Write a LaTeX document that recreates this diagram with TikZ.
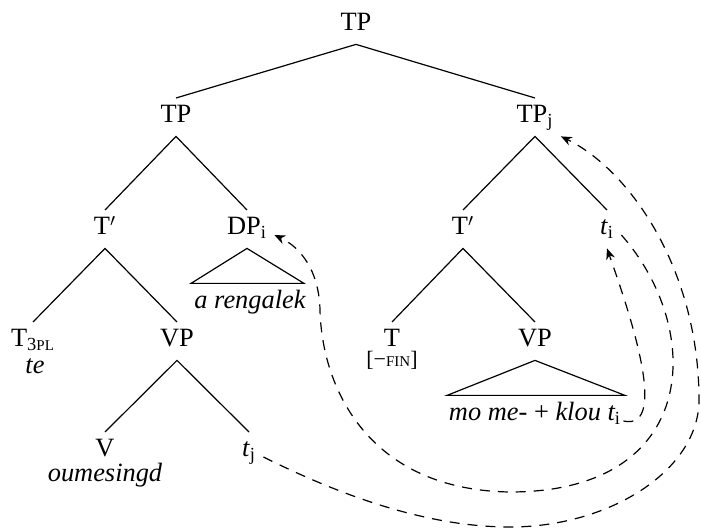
\documentclass[tikz,border=0pt]{standalone}
\usepackage{fontspec}
\usepackage{tikz}
\setmainfont{Liberation Serif}
\usetikzlibrary{arrows.meta, calc}

\newcommand{\treefont}{\fontsize{13.2}{16}\selectfont}
\newcommand{\fsc}[1]{{\fontsize{7.5}{9}\selectfont #1}}

\tikzset{
    cat/.style={anchor=base, text height=8.8pt, text depth=3pt, inner sep=3.5pt},
    word/.style={anchor=base, font=\treefont\itshape, inner sep=1pt},
    branch/.style={line width=0.6pt},
    move/.style={line width=0.6pt, dash pattern=on 5pt off 4pt,
                 -{Stealth[length=5.5pt, width=4.5pt, inset=1.8pt]}}
}

\begin{document}
\begin{tikzpicture}[x=0.5pt, y=0.5pt, font=\treefont]
    \useasboundingbox (0,0) rectangle (701,-528);

    % categories
    \node[cat] (tp)  at (356,-31)  {TP};
    \node[cat] (tpa) at (176,-123) {TP};
    \node[cat] (tpj) at (535,-123) {TP\textsubscript{j}};
    \node[cat] (tba) at (105,-235) {T$'$};
    \node[cat] (dpi) at (247,-235) {DP\textsubscript{i}};
    \node[cat] (tbb) at (463,-235) {T$'$};
    \node[cat] (ti)  at (607,-235) {\textit{t}\textsubscript{i}};
    \node[cat] (tpl) at (33,-347)  {T\textsubscript{3\fsc{PL}}};
    \node[cat] (vpa) at (177,-347) {VP};
    \node[cat] (tfn) at (392,-347) {T};
    \node[cat] (vpb) at (535,-347) {VP};
    \node[cat] (v)   at (105,-457) {V};
    \node[cat] (tj)  at (249,-457) {\textit{t}\textsubscript{j}};

    % words
    \node[word] (te)  at (35,-374)  {te};
    \node[word] (fin) at (392,-367) {\upshape\fontsize{11}{13}\selectfont [−\fsc{FIN}]};
    \node[word] (ren) at (250,-309) {a rengalek};
    \node[word] (oum) at (105,-482) {oumesingd};
    \node[word] (mo)  at (535,-421) {mo me- \textup{+} klou t\textsubscript{\upshape i}};

    % branches
    \draw[branch] (tpa.north) -- (tp.south) -- (tpj.north);
    \draw[branch] (tba.north) -- (tpa.south) -- (dpi.north);
    \draw[branch] (tbb.north) -- (tpj.south) -- (ti.north);
    \draw[branch] (tpl.north) -- (tba.south) -- (vpa.north);
    \draw[branch] (tfn.north) -- (tbb.south) -- (vpb.north);
    \draw[branch] (v.north) -- (vpa.south) -- (tj.north);

    % roofs
    \draw[branch] (dpi.south) -- ++(-56,-35) -- ++(113,0) -- cycle;
    \draw[branch] (vpb.south) -- ++(-88,-35) -- ++(178,0) -- cycle;

    % movement
    \draw[move] (mo.base east) .. controls (672,-432) and (625,-300) .. (ti.south);
    \draw[move] (ti.base east) .. controls (705,-330) and (700,-492) .. (510,-492)
        .. controls (370,-490) and (322,-390) .. (320,-310)
        .. controls (319,-270) and (300,-247) .. (dpi.base east);
    \draw[move] (tj.base east) .. controls (330,-490) and (420,-527) .. (510,-527)
        .. controls (610,-527) and (699,-470) .. (699,-400)
        .. controls (699,-270) and (630,-170) .. (tpj.south east);
\end{tikzpicture}
\end{document}
